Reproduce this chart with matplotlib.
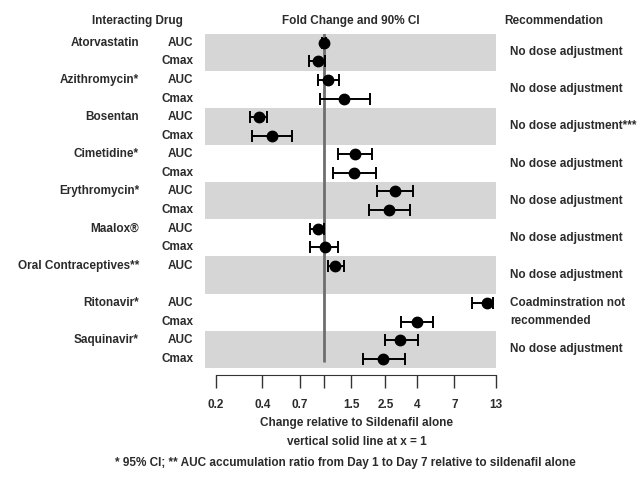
import matplotlib
matplotlib.use("Agg")
import matplotlib.pyplot as plt
import matplotlib.transforms as mtransforms
import numpy as np

plt.rcParams['font.family'] = ['Liberation Sans Narrow', 'Liberation Sans', 'DejaVu Sans']

# ---- data ----
drugs = ["Atorvastatin", "Azithromycin*", "Bosentan", "Cimetidine*", "Erythromycin*",
         "Maalox®", "Oral Contraceptives**", "Ritonavir*", "Saquinavir*"]
recommendations = ["No dose adjustment", "No dose adjustment", "No dose adjustment***",
                   "No dose adjustment", "No dose adjustment", "No dose adjustment",
                   "No dose adjustment", "Coadminstration not\nrecommended", "No dose adjustment"]
# per drug: [AUC, Cmax] (None = not reported)
est = [[1.00, 0.91], [1.07, 1.34], [0.38, 0.46], [1.59, 1.57], [2.87, 2.63],
       [0.91, 1.02], [1.18, None], [11.3, 4.0], [3.13, 2.42]]
lo = [[0.97, 0.80], [0.91, 0.94], [0.33, 0.34], [1.24, 1.15], [2.21, 1.96],
      [0.81, 0.81], [1.06, None], [9.1, 3.17], [2.50, 1.79]]
hi = [[1.03, 1.02], [1.25, 1.98], [0.43, 0.62], [2.05, 2.16], [3.75, 3.59],
      [1.00, 1.24], [1.35, None], [12.4, 5.05], [4.06, 3.33]]
params = ["AUC", "Cmax"]
shaded = [True, False, True, False, True, False, True, False, True]
xticks = [0.2, 0.4, 0.7, 1.0, 1.5, 2.5, 4, 7, 13]
xticklabels = ["0.2", "0.4", "0.7", "", "1.5", "2.5", "4", "7", "13"]

W, H = 644, 482
fig = plt.figure(figsize=(W / 100, H / 100), dpi=100)
ax = fig.add_axes([205 / W, 1 - 368 / H, (496 - 205) / W, (368 - 33.5) / H])

tc = '#2b2b2b'
fs = 8.5
nrows = 2 * len(drugs)
ax.set_xscale('log')
ax.set_xlim(0.17, 12.9)
ax.set_ylim(nrows - 0.5, -0.5)

trans_fig_x = mtransforms.blended_transform_factory(fig.transFigure, ax.transData)

for i, d in enumerate(drugs):
    r0 = 2 * i
    if shaded[i]:
        ax.axhspan(r0 - 0.5, r0 + 1.5, color='#d6d6d6', zorder=0, lw=0)
    fig.text(139 / W, r0, d, transform=trans_fig_x, ha='right', va='center',
             fontsize=fs, color=tc, fontweight='bold')
    fig.text(510 / W, r0 + 0.5, recommendations[i], transform=trans_fig_x, ha='left',
             va='center', fontsize=fs, color=tc, fontweight='bold', linespacing=1.65)
    for j, p in enumerate(params):
        if est[i][j] is None:
            continue
        y = r0 + j
        fig.text(193 / W, y, p, transform=trans_fig_x, ha='right', va='center',
                 fontsize=fs, color=tc, fontweight='bold')
        ax.errorbar([est[i][j]], [y],
                    xerr=[[est[i][j] - lo[i][j]], [hi[i][j] - est[i][j]]],
                    fmt='o', color='black', ms=7.5, elinewidth=1.4, capsize=4.5,
                    capthick=1.4, zorder=4)

ax.plot([1, 1], [-0.5, nrows - 0.8], color='#6e6e6e', lw=2.0, zorder=3,
        solid_capstyle='butt')

for s in ['top', 'right', 'left']:
    ax.spines[s].set_visible(False)
ax.spines['bottom'].set_position(('outward', 5))
ax.spines['bottom'].set_bounds(0.2, 13)
ax.spines['bottom'].set_color('#333333')
ax.set_yticks([])
ax.set_xticks(xticks)
ax.set_xticklabels(xticklabels)
ax.xaxis.set_minor_locator(matplotlib.ticker.NullLocator())
ax.tick_params(axis='x', length=9, width=1.0, color='#333333', labelsize=fs,
               labelcolor=tc, pad=8)
for lab in ax.get_xticklabels():
    lab.set_fontweight('bold')

fig.text(137 / W, 1 - 21 / H, "Interacting Drug", ha='center', va='center',
         fontsize=fs, color=tc, fontweight='bold')
fig.text(351 / W, 1 - 21 / H, "Fold Change and 90% CI", ha='center', va='center',
         fontsize=fs, color=tc, fontweight='bold')
fig.text(504 / W, 1 - 21 / H, "Recommendation", ha='left', va='center',
         fontsize=fs, color=tc, fontweight='bold')

fig.text(357 / W, 1 - 423 / H, "Change relative to Sildenafil alone", ha='center',
         va='center', fontsize=fs, color=tc, fontweight='bold')
fig.text(357 / W, 1 - 442 / H, "vertical solid line at x = 1", ha='center',
         va='center', fontsize=fs, color=tc, fontweight='bold')
fig.text(345 / W, 1 - 463 / H,
         "* 95% CI; ** AUC accumulation ratio from Day 1 to Day 7 relative to sildenafil alone",
         ha='center', va='center', fontsize=fs, color=tc, fontweight='bold')

fig.savefig("out.png", dpi=100)
